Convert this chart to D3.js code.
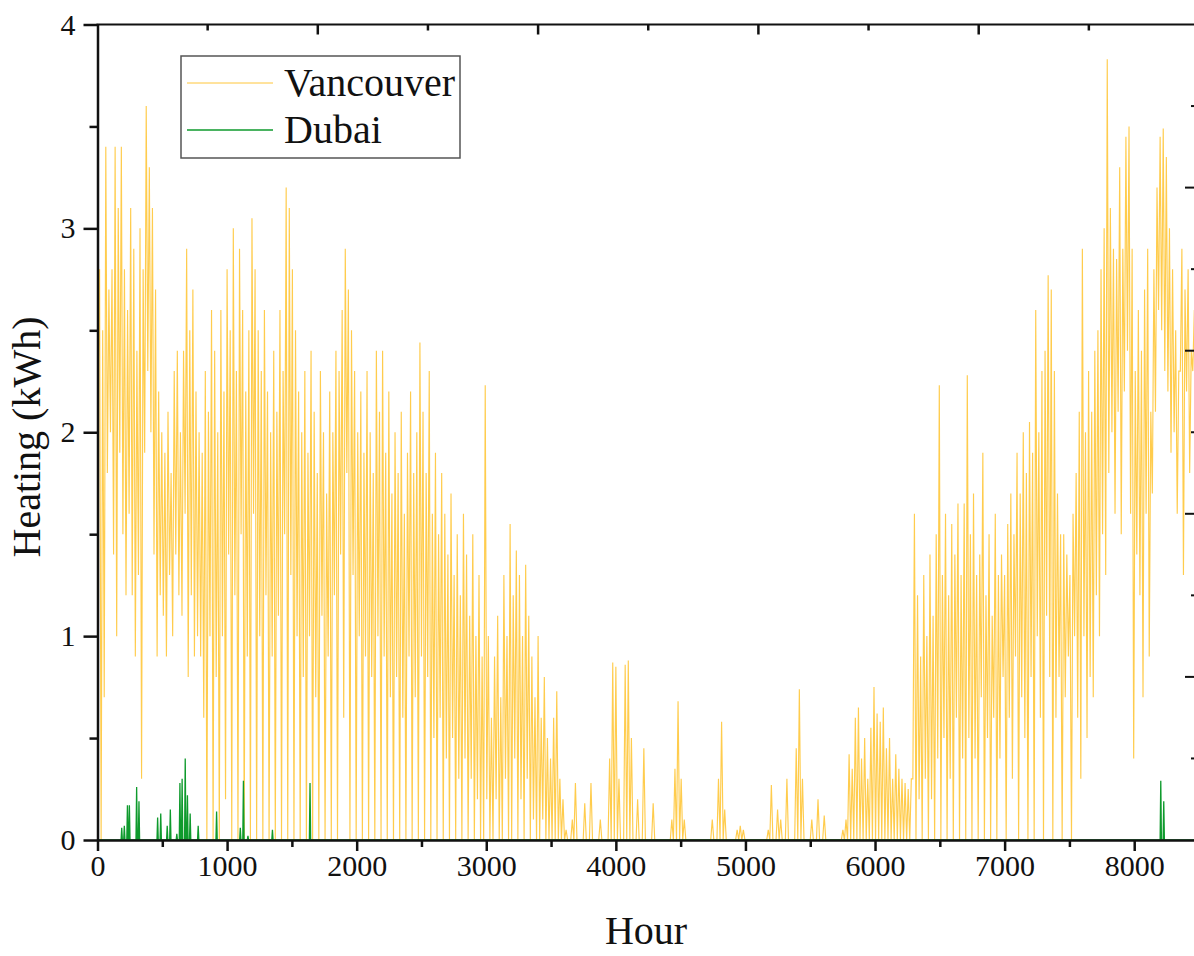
<!DOCTYPE html>
<html>
<head>
<meta charset="utf-8">
<script src="https://cdn.jsdelivr.net/npm/d3@7"></script>
<style>
  html, body { margin: 0; padding: 0; background: #fff; }
  svg { display: block; }
  text { font-family: "Liberation Serif", "Times New Roman", serif; fill: #111; }
</style>
</head>
<body>
<svg id="chart" width="1194" height="956"></svg>
<script>
// ---- Data ----
// Vancouver: daily peak and daily low heating load (kWh), one value per day of the year
const vancouverDailyMax = [
  2.8,2.5,3.4,2.7,2.8,3.4,3.1,3.4,2.8,2.6,
  3.1,2.9,2.4,3.0,2.8,3.6,3.3,3.1,2.7,2.2,
  2.0,1.9,2.1,1.8,2.3,2.4,2.0,2.4,2.9,2.5,
  2.7,2.2,2.0,1.9,2.3,2.1,2.6,2.4,2.0,2.6,
  2.2,2.8,2.5,3.0,2.3,2.9,2.6,2.2,2.5,3.05,
  2.8,2.5,2.3,2.6,2.2,2.0,2.4,2.1,2.6,2.3,
  3.2,3.1,2.8,2.5,2.2,2.0,2.3,1.9,2.4,2.1,
  1.8,2.3,2.0,1.7,2.2,2.0,2.4,2.3,2.6,2.9,
  2.7,2.5,2.3,2.0,2.2,1.9,2.3,2.0,1.8,2.4,
  2.1,2.4,1.9,2.2,1.7,2.0,1.8,2.1,1.6,1.9,
  2.2,1.8,2.0,2.44,2.1,1.8,2.3,1.6,1.9,1.5,
  1.8,1.6,1.4,1.7,1.3,1.5,1.2,1.6,1.4,1.1,
  1.5,1.0,1.3,0.9,2.23,1.0,0.6,0.9,1.1,0.7,
  1.3,1.0,1.55,1.2,1.42,1.3,1.0,1.35,1.1,0.9,
  0.7,1.0,0.6,0.8,0.5,0.4,0.6,0.73,0.3,0.2,
  0.05,0,0.1,0.28,0,0,0.18,0,0.28,0,
  0,0.1,0,0,0.4,0.87,0.85,0.3,0,0.86,
  0.88,0.5,0,0.2,0,0.45,0,0,0.18,0,
  0,0,0,0,0.1,0.35,0.68,0.3,0.1,0,
  0,0,0,0,0,0,0,0.1,0,0.3,
  0.58,0.15,0,0,0,0.05,0.07,0.05,0,0,
  0,0,0,0,0,0.05,0.27,0,0.15,0.1,
  0,0.3,0,0,0.45,0.74,0.3,0,0,0.1,
  0,0.2,0,0.12,0,0,0,0,0,0.05,
  0.1,0.42,0.35,0.6,0.65,0.4,0.5,0.3,0.55,0.75,
  0.62,0.58,0.65,0.45,0.5,0.3,0.42,0.35,0.3,0.28,
  0.25,0.3,1.6,1.2,0.9,1.3,1.0,1.4,1.1,1.5,
  2.23,1.3,1.6,1.2,1.55,1.4,1.65,1.3,1.65,2.28,
  1.5,1.7,1.3,1.4,1.9,1.2,1.5,1.1,1.6,1.3,
  1.4,1.3,1.55,1.7,1.5,1.9,1.7,2.0,1.8,2.05,
  1.9,2.6,2.0,2.3,2.4,2.77,2.7,2.3,1.7,1.5,
  1.5,1.4,1.3,1.6,1.8,2.1,2.9,2.0,2.3,2.1,
  2.4,2.5,2.8,3.0,3.83,3.1,2.9,2.85,3.3,2.9,
  3.45,3.5,2.9,2.3,2.6,2.4,2.7,2.9,2.1,2.8,
  3.2,3.45,3.49,3.35,3.0,2.8,2.5,2.3,2.9,2.7,
  2.8,2.4,2.6,2.5,2.6,2.7,2.5,2.8,2.6,2.4,
  2.7,2.9,2.6,2.5,2.7
];
const vancouverDailyMin = [
  2.2,0,0.7,1.8,2.0,1.4,1.0,1.9,1.5,1.2,
  1.6,1.2,0.9,1.3,0.3,1.9,2.3,2.0,1.4,0.9,
  1.2,1.1,0.9,1.3,1.0,1.4,1.2,1.1,1.6,0.8,
  1.2,0.9,1.0,0.9,0.6,0,1.0,0,0.8,0,
  1.0,0.2,1.4,0,1.2,0,1.5,0,0.9,0,
  1.6,0,1.0,0,1.2,0,0.9,0,1.1,0,
  1.5,0,1.3,0,1.0,0,0.8,0,1.0,0,
  0.7,0,1.1,0,0.9,0,1.2,0,1.4,0.6,
  1.8,0,1.3,0,1.0,0,0.9,0,0.8,0,
  1.0,0,0.9,0,0.7,0,0.8,0,0.6,0,
  0.9,0,0.7,0,0.9,0,0.8,0,0.5,0,
  0.6,0,0.4,0,0.5,0,0.3,0,0.4,0,
  0.3,0,0.2,0,0,0.2,0,0,0.2,0,
  0,0.3,0,0,0.4,0,0.2,0,0.3,0,
  0.1,0,0,0.1,0,0,0,0,0,0,
  0,0,0,0,0,0,0,0,0,0,
  0,0,0,0,0,0,0,0,0,0,
  0,0,0,0,0,0,0,0,0,0,
  0,0,0,0,0,0,0,0,0,0,
  0,0,0,0,0,0,0,0,0,0,
  0,0,0,0,0,0,0,0,0,0,
  0,0,0,0,0,0,0,0,0,0,
  0,0,0,0,0,0,0,0,0,0,
  0,0,0,0,0,0,0,0,0,0,
  0,0,0,0,0,0,0,0,0,0,
  0,0,0,0,0,0,0,0,0,0,
  0,0,0.3,0,0.2,0,0.3,0,0.2,0,
  0.4,0,0.5,0,0.3,0,0.6,0,0.4,0,
  0.5,0,0.4,0,0.7,0,0.5,0,0.6,0,
  0.4,0.8,0,0.6,0.3,0.9,0,0.7,0.5,0,
  0.8,0,1.0,0.6,0,1.1,0.8,0,0.6,0.8,
  0,0.7,0.9,0,1.0,0.6,0.3,1.0,0.5,0.8,
  0.7,1.2,1.0,1.5,1.3,1.8,2.0,1.6,2.1,1.5,
  2.2,2.4,1.6,0.4,1.4,1.2,0.7,1.6,0.9,1.7,
  2.1,2.6,2.5,2.3,2.2,1.9,2.0,1.6,2.3,1.3,
  2.2,1.8,2.3,1.9,2.2,2.3,2.0,2.4,2.1,1.9,
  2.2,2.4,2.1,2.0,2.3
];
// Dubai: heating is zero except for a few short spikes (hour, kWh)
const dubaiSpikeHours  = [187,207,231,246,302,320,464,488,538,562,612,636,653,677,694,715,777,919,1102,1126,1161,1350,1640,8205,8228];
const dubaiSpikeValues = [0.06,0.07,0.17,0.17,0.26,0.19,0.11,0.13,0.07,0.15,0.03,0.28,0.30,0.40,0.22,0.13,0.07,0.14,0.06,0.29,0.02,0.05,0.28,0.29,0.19];

const seriesNames = ["Vancouver", "Dubai"];
const seriesColors = ["#FFC63A", "#0E9A2C"];
const xTickValues = [0,1000,2000,3000,4000,5000,6000,7000,8000];
const yTickValues = [0,1,2,3,4];
const hoursInYear = 8760;

// ---- Build point lists from the arrays ----
const vanPoints = [];
vancouverDailyMax.forEach((mx, d) => {
  vanPoints.push([d * 24 + 4, vancouverDailyMin[d]]);
  vanPoints.push([d * 24 + 16, mx]);
});
const dubaiPoints = [[0, 0]];
dubaiSpikeHours.forEach((h, i) => {
  dubaiPoints.push([h - 5, 0], [h, dubaiSpikeValues[i]], [h + 5, 0]);
});
dubaiPoints.push([hoursInYear, 0]);

// ---- Layout ----
const pL = 97.5, pR = 1199, pT = 24.5, pB = 840;
const svg = d3.select("#chart");

const x = d3.scaleLinear().domain([0, 8500]).range([pL, pR]);
const y = d3.scaleLinear().domain([0, 4]).range([pB, pT]);

svg.append("defs").append("clipPath").attr("id", "plotclip")
  .append("rect").attr("x", pL).attr("y", pT - 1).attr("width", pR - pL).attr("height", pB - pT + 2);

const line = d3.line().x(d => x(d[0])).y(d => y(d[1]));
const plot = svg.append("g").attr("clip-path", "url(#plotclip)");
plot.append("path").datum(vanPoints)
  .attr("fill", "none").attr("stroke", seriesColors[0]).attr("stroke-width", 1.15).attr("stroke-opacity", 0.9)
  .attr("d", line);
plot.append("path").datum(dubaiPoints)
  .attr("fill", "none").attr("stroke", seriesColors[1]).attr("stroke-width", 1.3)
  .attr("d", line);

// ---- Axes ----
const xMinor = x.ticks(17).filter(v => v % 1000 !== 0);
const gxMinor = svg.append("g").attr("transform", `translate(0,${pB})`)
  .call(d3.axisBottom(x).tickValues(xMinor).tickSize(7).tickFormat(""));
gxMinor.select(".domain").remove();
gxMinor.selectAll("line").attr("stroke", "#111").attr("stroke-width", 2.5);
const gx = svg.append("g").attr("transform", `translate(0,${pB})`)
  .call(d3.axisBottom(x).tickValues(xTickValues).tickSize(11).tickSizeOuter(0).tickPadding(4).tickFormat(d3.format("d")));
gx.select(".domain").attr("stroke", "#111").attr("stroke-width", 2.5);
gx.selectAll("line").attr("stroke", "#111").attr("stroke-width", 2.5);
gx.selectAll("text").attr("font-size", 30).style("font-family", "Liberation Serif");

const yMinor = [0.5, 1.5, 2.5, 3.5];
const gyMinor = svg.append("g").attr("transform", `translate(${pL},0)`)
  .call(d3.axisLeft(y).tickValues(yMinor).tickSize(8).tickFormat(""));
gyMinor.select(".domain").remove();
gyMinor.selectAll("line").attr("stroke", "#111").attr("stroke-width", 2.5);
const gy = svg.append("g").attr("transform", `translate(${pL},0)`)
  .call(d3.axisLeft(y).tickValues(yTickValues).tickSize(14).tickSizeOuter(0).tickPadding(8).tickFormat(d3.format("d")));
gy.select(".domain").attr("stroke", "#111").attr("stroke-width", 2.5);
gy.selectAll("line").attr("stroke", "#111").attr("stroke-width", 2.5);
gy.selectAll("text").attr("font-size", 30).style("font-family", "Liberation Serif");

// top (secondary) axis: unlabeled, ticks inward
const xTop = d3.scaleLinear().domain([0, 10]).range([pL, pR]);
const gt = svg.append("g").attr("transform", `translate(0,${pT})`);
gt.append("line").attr("x1", pL - 1).attr("x2", pR).attr("y1", 0).attr("y2", 0)
  .attr("stroke", "#111").attr("stroke-width", 2);
gt.selectAll("line.tk").data(d3.range(1, 10)).join("line").attr("class", "tk")
  .attr("x1", d => xTop(d)).attr("x2", d => xTop(d))
  .attr("y1", 0).attr("y2", d => d % 2 === 0 ? 10 : 6)
  .attr("stroke", "#111").attr("stroke-width", 2.5);

// right (secondary) axis: unlabeled, ticks inward
const yRight = d3.scaleLinear().domain([0, 10]).range([pB, pT]);
const gr = svg.append("g").attr("transform", `translate(${pR},0)`);
gr.append("line").attr("x1", 0).attr("x2", 0).attr("y1", pT).attr("y2", pB)
  .attr("stroke", "#111").attr("stroke-width", 2);
gr.selectAll("line.tk").data(d3.range(1, 10)).join("line").attr("class", "tk")
  .attr("x1", 0).attr("x2", d => d % 2 === 0 ? -14 : -8)
  .attr("y1", d => yRight(d)).attr("y2", d => yRight(d))
  .attr("stroke", "#111").attr("stroke-width", 2);

// ---- Axis titles ----
svg.append("text").attr("x", 646).attr("y", 944).attr("text-anchor", "middle")
  .attr("font-size", 40).text("Hour");
svg.append("text").attr("transform", "translate(40,437) rotate(-90)").attr("text-anchor", "middle")
  .attr("font-size", 40).text("Heating (kWh)");

// ---- Legend ----
const lg = svg.append("g");
lg.append("rect").attr("x", 181).attr("y", 56).attr("width", 279).attr("height", 102)
  .attr("fill", "#fff").attr("stroke", "#555").attr("stroke-width", 1.5);
const legendRows = seriesNames.map((n, i) => ({ name: n, color: seriesColors[i], cy: 83 + i * 47 }));
lg.selectAll("line.lgl").data(legendRows).join("line").attr("class", "lgl")
  .attr("x1", 187).attr("x2", 273).attr("y1", d => d.cy).attr("y2", d => d.cy)
  .attr("stroke", d => d.color).attr("stroke-width", d => d.name === "Dubai" ? 1.5 : 1);
lg.selectAll("text.lgt").data(legendRows).join("text").attr("class", "lgt")
  .attr("x", 284).attr("y", d => d.cy + 13).attr("font-size", 40).text(d => d.name);
</script>
</body>
</html>
